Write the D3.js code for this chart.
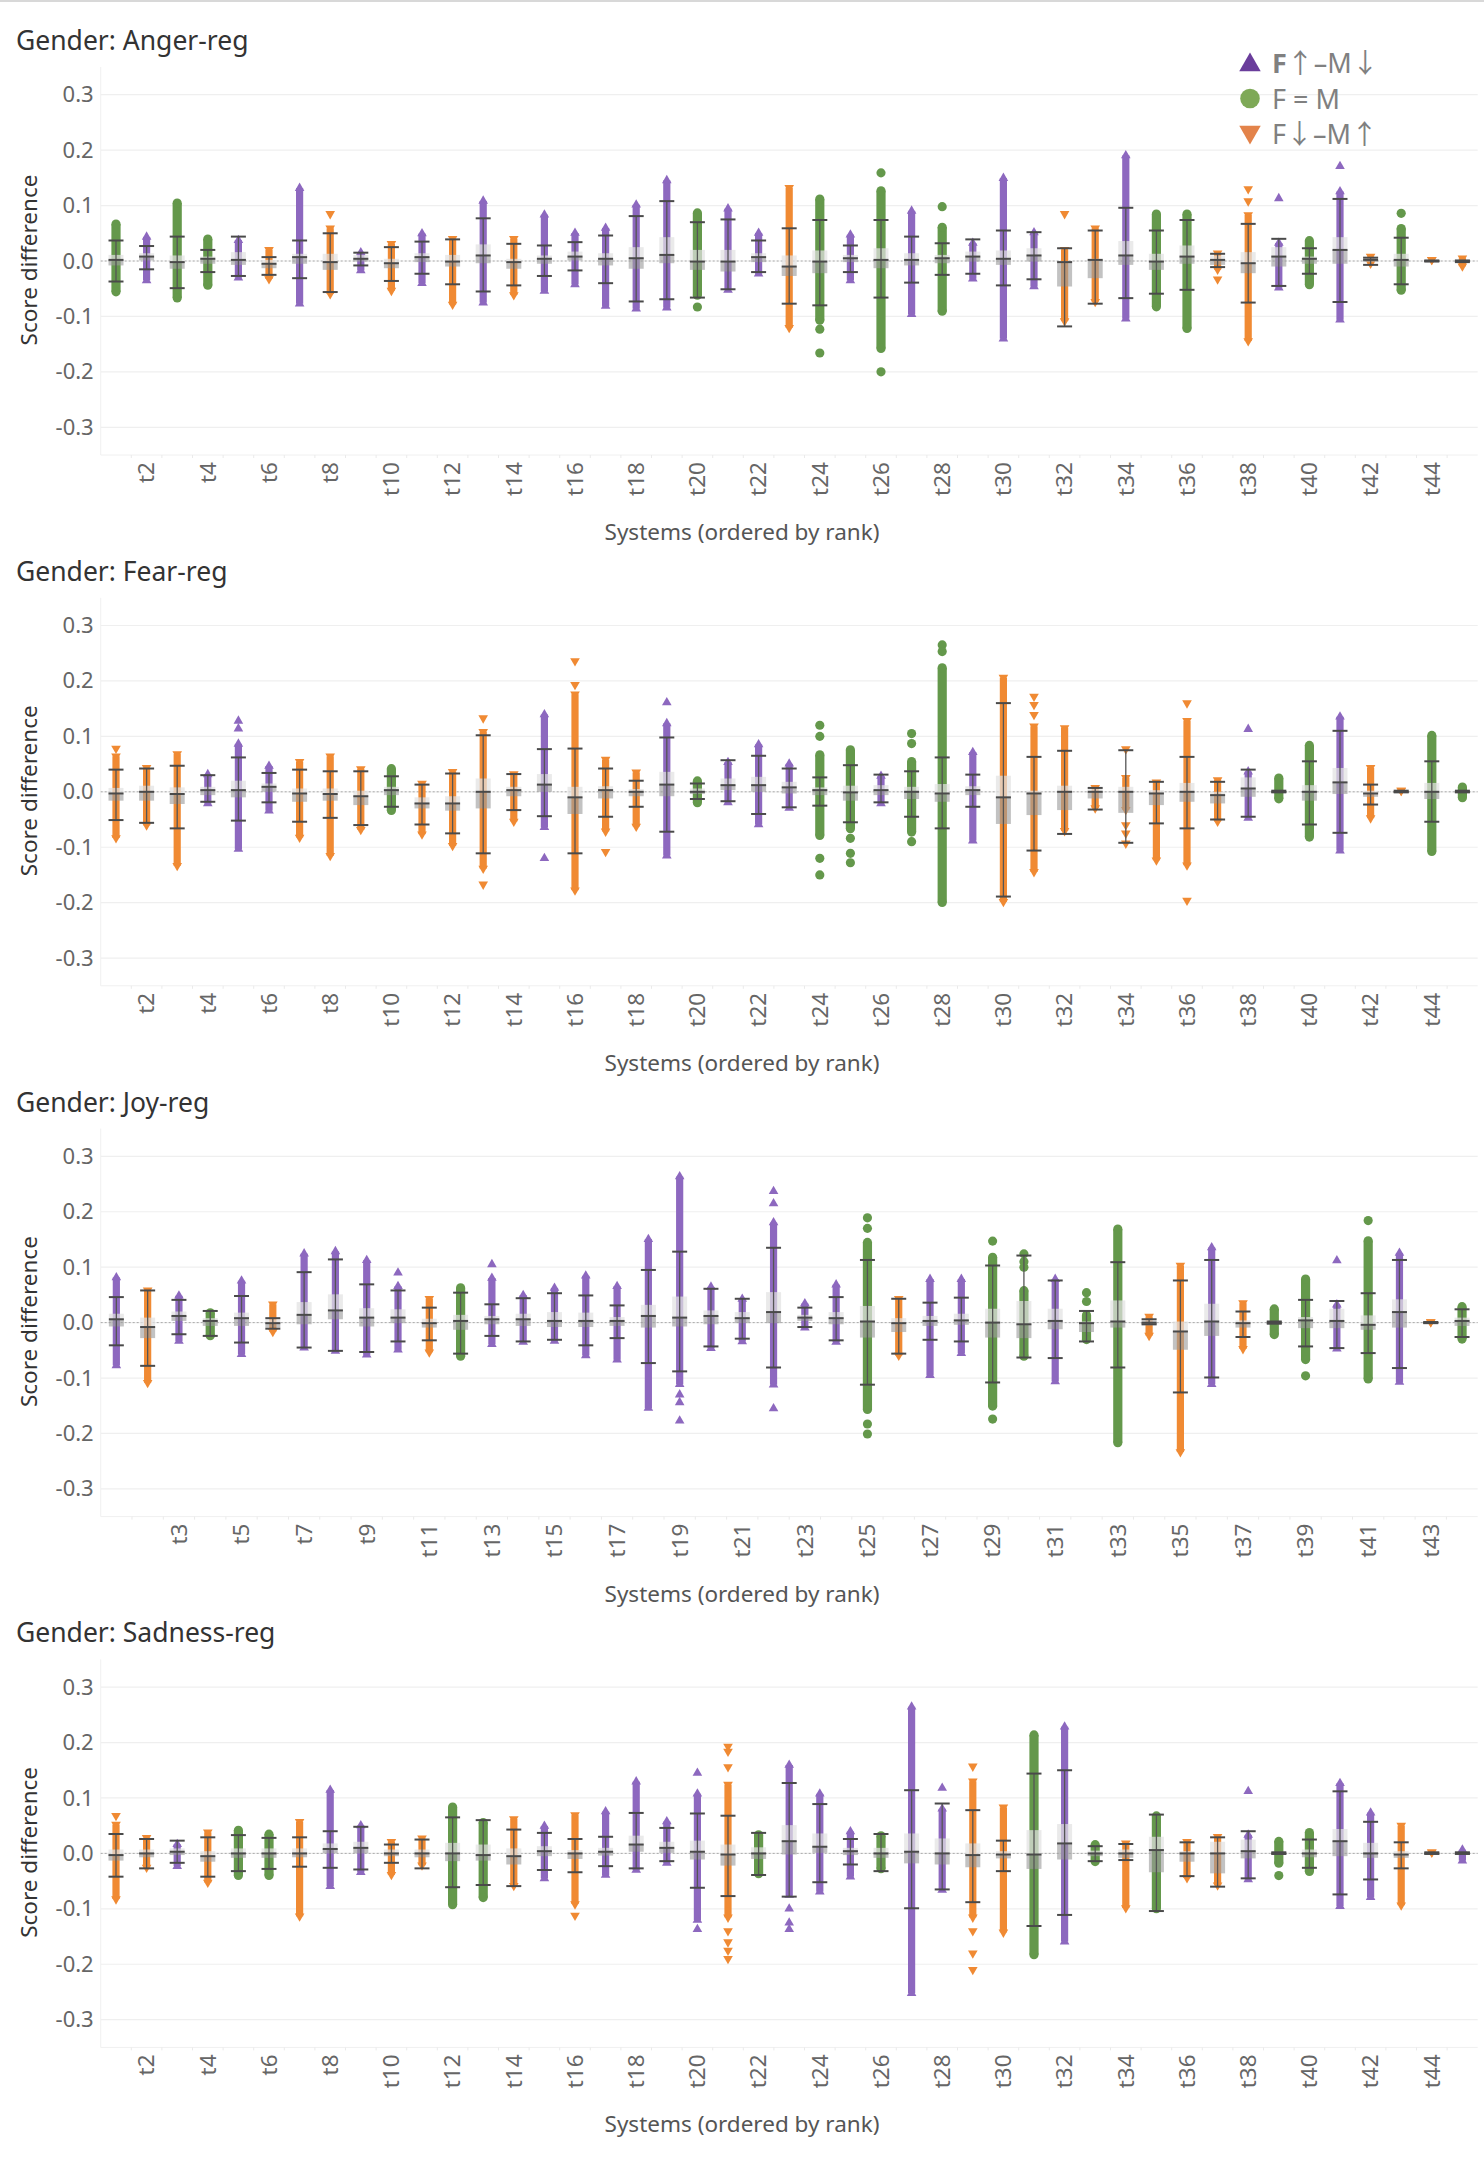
<!DOCTYPE html>
<html>
<head>
<meta charset="utf-8">
<script src="https://cdn.jsdelivr.net/npm/d3@7/dist/d3.min.js"></script>
<style>
  body { margin: 0; background: #fff; }
  svg text { font-family: "Noto Sans", "DejaVu Sans", sans-serif; }
</style>
</head>
<body>
<div id="chart"></div>
<script>
// groups: p = F↑–M↓, g = F = M, o = F↓–M↑
const angerGroup = "g p g g p o p o p o p o p o p p p p p g p p o g p g p g p p p o o p g g o o p g p o g o o".split(" ");
const angerHi  = [0.075,0.053,0.113,0.048,0.047,0.025,0.141,0.064,0.025,0.036,0.059,0.045,0.118,0.045,0.093,0.060,0.069,0.111,0.155,0.095,0.104,0.060,0.137,0.120,0.057,0.135,0.100,0.069,0.042,0.159,0.061,0.025,0.064,0.200,0.093,0.093,0.019,0.088,0.042,0.045,0.135,0.013,0.067,0.007,0.010];
const angerLo  = [-0.064,-0.040,-0.075,-0.052,-0.035,-0.042,-0.082,-0.069,-0.022,-0.063,-0.045,-0.088,-0.080,-0.071,-0.059,-0.047,-0.086,-0.091,-0.089,-0.070,-0.057,-0.028,-0.130,-0.115,-0.040,-0.166,-0.101,-0.099,-0.037,-0.145,-0.051,-0.118,-0.083,-0.109,-0.091,-0.130,-0.025,-0.154,-0.053,-0.051,-0.111,-0.014,-0.061,-0.005,-0.019];
const angerCapHi = [0.037,0.027,0.044,0.020,0.044,0.007,0.037,0.050,0.015,0.025,0.035,0.039,0.077,0.031,0.028,0.034,0.046,0.081,0.108,0.070,0.075,0.037,0.059,0.074,0.028,0.074,0.044,0.032,0.039,0.055,0.052,0.023,0.055,0.096,0.055,0.074,0.013,0.067,0.040,0.023,0.112,0.006,0.042,0.001,0.001];
const angerCapLo = [-0.037,-0.015,-0.049,-0.020,-0.027,-0.025,-0.031,-0.056,-0.008,-0.036,-0.023,-0.042,-0.055,-0.044,-0.027,-0.017,-0.040,-0.073,-0.069,-0.066,-0.051,-0.020,-0.077,-0.080,-0.020,-0.066,-0.039,-0.025,-0.023,-0.044,-0.033,-0.118,-0.077,-0.067,-0.059,-0.052,-0.011,-0.075,-0.045,-0.023,-0.074,-0.007,-0.042,-0.001,-0.002];
const angerQ3  = [0.011,0.014,0.010,0.008,0.016,0.002,0.013,0.013,0.011,0.004,0.014,0.011,0.030,0.004,0.010,0.017,0.014,0.025,0.043,0.020,0.020,0.014,0.010,0.019,0.011,0.023,0.014,0.011,0.017,0.019,0.023,0.000,0.004,0.036,0.013,0.028,0.010,0.016,0.025,0.008,0.043,0.006,0.013,0.002,0.002];
const angerMed = [0.002,0.008,-0.002,0.004,0.002,-0.005,0.007,-0.002,0.004,-0.004,0.007,-0.001,0.010,-0.002,0.004,0.008,0.004,0.005,0.011,-0.001,-0.001,0.007,-0.010,-0.001,0.005,0.002,0.002,0.005,0.008,0.004,0.010,-0.002,0.002,0.010,-0.001,0.008,0.002,-0.004,0.008,0.004,0.020,0.002,0.002,0.000,0.000];
const angerQ1  = [-0.008,0.001,-0.014,-0.005,-0.007,-0.013,-0.005,-0.016,-0.001,-0.013,-0.002,-0.010,-0.004,-0.014,-0.005,0.001,-0.008,-0.014,-0.004,-0.016,-0.019,-0.002,-0.027,-0.022,-0.002,-0.013,-0.008,-0.004,-0.001,-0.007,-0.001,-0.046,-0.031,-0.007,-0.016,-0.005,-0.007,-0.022,-0.010,-0.005,-0.005,-0.002,-0.010,-0.001,-0.002];
const angerOut = [[8,0.085],[20,-0.083],[24,-0.123],[24,-0.166],[26,0.159],[26,-0.2],[28,0.098],[32,0.085],[37,-0.033],[38,0.13],[38,0.108],[39,0.113],[41,0.171],[43,0.086]];

const fearGroup = "o o o p p p o o o g o o o o p o o o p g p p p g g p g g p o o o o o o o o p g g p o o g g".split(" ");
const fearHi  = [0.069,0.048,0.073,0.041,0.096,0.056,0.059,0.069,0.046,0.050,0.020,0.041,0.113,0.037,0.149,0.181,0.063,0.040,0.133,0.028,0.063,0.095,0.060,0.075,0.084,0.038,0.063,0.232,0.081,0.211,0.123,0.120,0.012,0.030,0.022,0.133,0.026,0.046,0.033,0.092,0.145,0.048,0.007,0.110,0.017];
const fearLo  = [-0.093,-0.070,-0.143,-0.026,-0.108,-0.039,-0.092,-0.125,-0.078,-0.042,-0.086,-0.107,-0.148,-0.063,-0.069,-0.187,-0.081,-0.072,-0.120,-0.028,-0.024,-0.064,-0.034,-0.087,-0.075,-0.026,-0.081,-0.208,-0.093,-0.208,-0.154,-0.080,-0.039,-0.042,-0.133,-0.142,-0.063,-0.052,-0.021,-0.090,-0.111,-0.057,-0.006,-0.116,-0.019];
const fearCapHi = [0.040,0.042,0.047,0.030,0.062,0.034,0.040,0.037,0.037,0.028,0.013,0.033,0.102,0.032,0.077,0.078,0.042,0.020,0.098,0.015,0.057,0.065,0.042,0.026,0.048,0.031,0.037,0.062,0.031,0.160,0.063,0.074,0.007,0.075,0.018,0.063,0.018,0.040,0.002,0.055,0.110,0.013,0.002,0.055,0.002];
const fearCapLo = [-0.051,-0.056,-0.066,-0.018,-0.052,-0.019,-0.054,-0.047,-0.060,-0.027,-0.059,-0.075,-0.111,-0.033,-0.044,-0.111,-0.045,-0.027,-0.072,-0.013,-0.017,-0.040,-0.028,-0.025,-0.055,-0.019,-0.045,-0.066,-0.027,-0.189,-0.106,-0.076,-0.032,-0.092,-0.057,-0.066,-0.050,-0.045,-0.001,-0.059,-0.074,-0.023,-0.001,-0.054,-0.001];
const fearQ3  = [0.007,0.011,0.008,0.009,0.020,0.015,0.006,0.006,0.002,0.009,-0.010,-0.008,0.024,0.009,0.032,0.009,0.010,0.005,0.036,0.006,0.024,0.027,0.018,0.008,0.011,0.012,0.009,0.014,0.010,0.029,0.002,0.011,0.005,0.009,0.003,0.016,0.000,0.026,0.001,0.012,0.043,0.002,0.001,0.016,0.001];
const fearMed = [-0.003,0.000,-0.004,0.003,0.003,0.009,-0.003,-0.004,-0.008,0.003,-0.021,-0.021,0.000,0.003,0.013,-0.010,0.003,0.000,0.013,0.000,0.012,0.012,0.008,0.003,-0.001,0.003,0.000,-0.003,0.003,-0.010,-0.003,0.000,0.000,0.000,-0.003,0.000,-0.006,0.006,0.000,0.000,0.017,-0.003,0.000,0.000,0.000];
const fearQ1  = [-0.016,-0.016,-0.022,-0.006,-0.010,0.000,-0.018,-0.016,-0.024,-0.006,-0.030,-0.034,-0.030,-0.008,0.000,-0.040,-0.012,-0.008,-0.008,-0.004,0.003,0.000,-0.003,-0.006,-0.016,-0.006,-0.013,-0.018,-0.006,-0.058,-0.042,-0.033,-0.012,-0.038,-0.024,-0.018,-0.021,-0.009,-0.001,-0.016,-0.004,-0.009,-0.001,-0.013,-0.001];
const fearOut = [[1,0.078],[5,0.128],[5,0.114],[13,0.133],[13,-0.167],[15,-0.12],[16,0.236],[16,0.193],[17,-0.108],[19,0.161],[24,0.12],[24,0.1],[24,-0.12],[24,-0.15],[25,-0.084],[25,-0.111],[25,-0.128],[27,0.105],[27,0.087],[27,-0.09],[28,0.265],[28,0.253],[31,0.172],[31,0.157],[31,0.139],[34,0.077],[34,-0.06],[34,-0.075],[34,-0.093],[36,0.16],[36,-0.196],[38,0.113]];

const joyGroup = "p o p g p o p p p p o g p p p p p p p p p p p p g o p p g g p g g o o p o g g p g p o g".split(" ");
const joyHi  = [0.091,0.063,0.058,0.026,0.085,0.038,0.134,0.138,0.122,0.075,0.048,0.071,0.090,0.059,0.072,0.094,0.075,0.160,0.273,0.074,0.052,0.190,0.044,0.078,0.153,0.048,0.088,0.088,0.126,0.066,0.088,0.022,0.177,0.016,0.108,0.145,0.040,0.033,0.087,0.042,0.156,0.135,0.006,0.037];
const joyLo  = [-0.082,-0.118,-0.038,-0.032,-0.062,-0.026,-0.050,-0.056,-0.063,-0.054,-0.063,-0.069,-0.044,-0.040,-0.038,-0.064,-0.072,-0.159,-0.116,-0.051,-0.039,-0.117,-0.014,-0.040,-0.165,-0.069,-0.100,-0.060,-0.159,-0.069,-0.111,-0.039,-0.225,-0.033,-0.243,-0.116,-0.057,-0.030,-0.075,-0.052,-0.110,-0.112,-0.006,-0.038];
const joyCapHi = [0.046,0.058,0.041,0.021,0.048,0.008,0.091,0.114,0.069,0.058,0.027,0.054,0.033,0.044,0.053,0.049,0.031,0.095,0.128,0.061,0.043,0.135,0.027,0.046,0.113,0.043,0.036,0.045,0.103,0.121,0.076,0.021,0.109,0.006,0.076,0.113,0.020,0.002,0.041,0.039,0.053,0.113,0.001,0.024];
const joyCapLo = [-0.041,-0.078,-0.021,-0.024,-0.036,-0.011,-0.045,-0.051,-0.053,-0.034,-0.032,-0.056,-0.024,-0.034,-0.031,-0.041,-0.028,-0.073,-0.088,-0.043,-0.029,-0.081,-0.008,-0.032,-0.112,-0.056,-0.031,-0.034,-0.108,-0.063,-0.064,-0.034,-0.081,-0.003,-0.126,-0.099,-0.026,-0.002,-0.043,-0.046,-0.055,-0.082,-0.001,-0.026];
const joyQ3  = [0.016,0.009,0.020,0.008,0.018,0.006,0.037,0.051,0.026,0.024,0.007,0.014,0.012,0.016,0.019,0.018,0.010,0.032,0.047,0.022,0.019,0.055,0.014,0.019,0.030,0.008,0.012,0.016,0.025,0.039,0.025,0.002,0.040,0.006,0.002,0.034,0.004,0.002,0.010,0.025,0.013,0.042,0.001,0.009];
const joyMed = [0.006,-0.008,0.012,0.003,0.008,-0.001,0.014,0.022,0.009,0.009,-0.001,0.003,0.006,0.006,0.003,0.003,0.003,0.012,0.009,0.012,0.008,0.019,0.009,0.008,0.002,-0.001,0.003,0.004,0.000,-0.003,0.003,-0.001,0.002,0.000,-0.016,0.002,-0.001,0.000,0.004,0.003,-0.004,0.019,0.000,0.003];
const joyQ1  = [-0.007,-0.028,0.003,-0.006,-0.006,-0.009,-0.003,0.006,-0.007,-0.001,-0.009,-0.013,-0.003,-0.006,-0.008,-0.008,-0.006,-0.009,-0.007,-0.003,-0.001,-0.001,0.003,-0.003,-0.027,-0.017,-0.006,-0.004,-0.027,-0.028,-0.012,-0.017,-0.009,-0.005,-0.049,-0.024,-0.009,-0.002,-0.010,-0.010,-0.013,-0.009,-0.001,-0.006];
const joyOut = [[10,0.09],[13,0.105],[19,-0.13],[19,-0.144],[19,-0.177],[22,0.237],[22,0.215],[22,-0.155],[25,0.189],[25,0.17],[25,-0.183],[25,-0.201],[29,0.147],[29,-0.174],[30,0.124],[30,0.11],[30,0.1],[32,0.054],[32,0.038],[39,-0.096],[40,0.112],[41,0.184]];

const sadGroup = "o o p o g g o p p o o g g o p o p p p p o g p p p g p p o o g p g o g o o p g g p p o o p".split(" ");
const sadHi  = [0.057,0.033,0.026,0.043,0.050,0.043,0.062,0.124,0.060,0.026,0.032,0.092,0.064,0.067,0.059,0.074,0.085,0.139,0.067,0.117,0.129,0.042,0.169,0.117,0.049,0.040,0.274,0.090,0.135,0.088,0.222,0.238,0.024,0.023,0.076,0.026,0.035,0.043,0.030,0.046,0.136,0.083,0.055,0.007,0.016];
const sadLo  = [-0.092,-0.035,-0.028,-0.062,-0.048,-0.048,-0.123,-0.064,-0.039,-0.048,-0.031,-0.101,-0.088,-0.068,-0.050,-0.101,-0.044,-0.035,-0.022,-0.125,-0.125,-0.045,-0.080,-0.074,-0.047,-0.036,-0.257,-0.071,-0.125,-0.152,-0.191,-0.164,-0.023,-0.108,-0.108,-0.054,-0.067,-0.052,-0.026,-0.041,-0.100,-0.084,-0.103,-0.005,-0.018];
const sadCapHi = [0.035,0.026,0.023,0.029,0.033,0.028,0.029,0.040,0.048,0.016,0.025,0.065,0.060,0.043,0.037,0.026,0.030,0.073,0.046,0.072,0.068,0.037,0.127,0.089,0.026,0.035,0.114,0.090,0.078,0.023,0.144,0.150,0.013,0.017,0.070,0.020,0.029,0.040,0.002,0.025,0.112,0.057,0.020,0.002,0.002];
const sadCapLo = [-0.042,-0.027,-0.017,-0.042,-0.032,-0.028,-0.024,-0.026,-0.029,-0.017,-0.027,-0.061,-0.057,-0.059,-0.030,-0.034,-0.023,-0.027,-0.014,-0.062,-0.077,-0.039,-0.078,-0.052,-0.020,-0.032,-0.099,-0.065,-0.088,-0.032,-0.131,-0.111,-0.014,-0.012,-0.104,-0.041,-0.060,-0.045,-0.001,-0.026,-0.074,-0.047,-0.027,-0.001,-0.001];
const sadQ3  = [0.007,0.007,0.009,0.004,0.009,0.009,0.009,0.018,0.021,0.007,0.007,0.019,0.016,0.009,0.013,0.006,0.010,0.032,0.021,0.023,0.016,0.011,0.051,0.036,0.010,0.010,0.036,0.027,0.018,0.004,0.042,0.053,0.005,0.007,0.030,0.004,0.021,0.025,0.001,0.007,0.044,0.019,0.004,0.001,0.001];
const sadMed = [-0.003,0.000,0.003,-0.005,0.000,0.000,0.000,0.008,0.010,0.000,0.000,0.000,-0.003,-0.005,0.004,0.000,0.003,0.016,0.010,0.003,-0.002,0.000,0.022,0.012,0.004,0.000,0.003,0.000,-0.003,-0.002,-0.002,0.018,0.000,0.000,0.006,0.000,0.000,0.004,0.000,0.000,0.022,0.000,-0.002,0.000,0.000];
const sadQ1  = [-0.013,-0.007,-0.003,-0.015,-0.008,-0.008,-0.007,0.000,0.000,-0.005,-0.007,-0.014,-0.013,-0.020,-0.005,-0.010,-0.004,0.003,0.001,-0.011,-0.022,-0.010,-0.002,0.001,-0.003,-0.008,-0.018,-0.020,-0.025,-0.009,-0.028,-0.011,-0.005,-0.008,-0.034,-0.015,-0.036,-0.009,-0.001,-0.007,-0.005,-0.008,-0.008,-0.001,-0.001];
const sadOut = [[1,0.068],[16,-0.112],[20,0.145],[20,-0.137],[21,0.193],[21,0.184],[21,0.156],[21,-0.14],[21,-0.16],[21,-0.175],[21,-0.19],[23,-0.1],[23,-0.125],[23,-0.137],[28,0.118],[29,0.157],[29,-0.14],[29,-0.18],[29,-0.21],[38,0.112],[39,-0.04]];

const panelTitles = ["Gender: Anger-reg", "Gender: Fear-reg", "Gender: Joy-reg", "Gender: Sadness-reg"];
const yTicks = [0.3, 0.2, 0.1, 0.0, -0.1, -0.2, -0.3];
const legendKeys = ["p", "g", "o"];
// each label: [bold part, plain/arrow parts...]
const legendLabels = [["F", "↑", "–M", "↓"], ["", "F = M"], ["", "F", "↓", "–M", "↑"]];

// ---------------------------------------------------------------

const width = 1484;
const height = 2158;
const panelStep = 530.8;
const plotLeft = 100.7;
const plotRight = 1477.7;

const markColor = { p: "#8d68bf", g: "#64984b", o: "#f08a33" };
const legendColor = { p: "#6a3d9b", g: "#7ea957", o: "#e3834a" };

const svg = d3.select("#chart")
    .append("svg")
    .attr("width", width)
    .attr("height", height);

svg.append("rect")
    .attr("x", 0).attr("y", 0)
    .attr("width", width).attr("height", 2)
    .attr("fill", "#d8d8d8");

function symbolFor(key, size) {
    if (key == "g") return d3.symbol().type(d3.symbolCircle).size(size)();
    return d3.symbol().type(d3.symbolTriangle).size(size)();
}

function drawPanel(i, group, hi, lo, capHi, capLo, q3, med, q1, outliers) {
    let y0 = i * panelStep;
    let g = svg.append("g");

    let names = group.map(function(d, k) { return "t" + (k + 1); });

    let xScale = d3.scaleBand()
        .domain(names)
        .range([plotLeft, plotRight]);

    let yScale = d3.scaleLinear()
        .domain([-0.35, 0.35])
        .range([y0 + 455, y0 + 67]);

    // title
    g.append("text")
        .attr("x", 16)
        .attr("y", y0 + 50)
        .attr("fill", "#333")
        .style("font-size", "26.5px")
        .text(panelTitles[i]);

    // grid
    g.selectAll(".grid")
        .data(yTicks)
        .enter().append("line")
        .attr("x1", plotLeft).attr("x2", plotRight)
        .attr("y1", function(d) { return yScale(d); })
        .attr("y2", function(d) { return yScale(d); })
        .attr("stroke", "#efefef")
        .attr("stroke-width", 1.2);

    g.append("line")
        .attr("x1", plotLeft).attr("x2", plotLeft)
        .attr("y1", y0 + 67).attr("y2", y0 + 455)
        .attr("stroke", "#f0f0f0");
    g.append("line")
        .attr("x1", plotLeft).attr("x2", plotRight)
        .attr("y1", y0 + 455).attr("y2", y0 + 455)
        .attr("stroke", "#f0f0f0");

    // y axis labels
    let axisY = d3.axisLeft(yScale)
        .tickValues(yTicks)
        .tickFormat(function(d) { return d.toFixed(1); })
        .tickSize(0)
        .tickPadding(7);
    let gy = g.append("g")
        .attr("transform", `translate(${plotLeft}, 0)`)
        .call(axisY);
    gy.select(".domain").remove();
    gy.selectAll("text")
        .attr("fill", "#666")
        .style("font-family", "\"Noto Sans\", sans-serif")
        .style("font-size", "22px");

    g.append("text")
        .attr("transform", `translate(37, ${y0 + 260}) rotate(-90)`)
        .attr("text-anchor", "middle")
        .attr("fill", "#333")
        .style("font-size", "22.5px")
        .text("Score difference");

    // x axis labels: every second system, first one skipped
    let parity = group.length == 44 ? 1 : 0;
    let axisX = d3.axisBottom(xScale)
        .tickValues(names.filter(function(d, k) { return (k + 1) % 2 == parity && k > 0; }))
        .tickSize(0);
    let gx = g.append("g")
        .attr("transform", `translate(0, ${y0 + 455})`)
        .call(axisX);
    gx.select(".domain").remove();
    gx.selectAll("text")
        .attr("fill", "#666")
        .style("font-family", "\"Noto Sans\", sans-serif")
        .style("font-size", "22.5px")
        .attr("text-anchor", "end")
        .attr("transform", "rotate(-90)")
        .attr("x", -7)
        .attr("y", 0)
        .attr("dy", "0.35em");

    // faint column separators below the axis
    g.selectAll(".sep")
        .data(names.slice(1))
        .enter().append("line")
        .attr("x1", function(d) { return xScale(d); })
        .attr("x2", function(d) { return xScale(d); })
        .attr("y1", y0 + 455).attr("y2", y0 + 458)
        .attr("stroke", "#eaeaea");

    g.append("text")
        .attr("x", width / 2)
        .attr("y", y0 + 540)
        .attr("text-anchor", "middle")
        .attr("fill", "#555")
        .style("font-size", "22.5px")
        .text("Systems (ordered by rank)");

    // zero line
    g.append("line")
        .attr("x1", plotLeft).attr("x2", plotRight)
        .attr("y1", yScale(0)).attr("y2", yScale(0))
        .attr("stroke", "#aaa")
        .attr("stroke-width", 1)
        .attr("stroke-dasharray", "2,2");

    let cols = group.map(function(key, k) {
        return {
            name: names[k], key: key,
            cx: xScale(names[k]) + xScale.bandwidth() / 2,
            hi: hi[k], lo: lo[k], capHi: capHi[k], capLo: capLo[k],
            q3: q3[k], med: med[k], q1: q1[k]
        };
    });

    // strips of points
    let strips = g.append("g");
    cols.forEach(function(c) {
        let color = markColor[c.key];
        let top = yScale(c.hi);
        let bot = yScale(c.lo);
        let half = c.key == "g" ? 4.6 : 3.6;
        let endTop = c.key == "p" ? top + 5.3 : (c.key == "o" ? top + 2.7 : top + 4.6);
        let endBot = c.key == "o" ? bot - 5.3 : (c.key == "p" ? bot - 2.7 : bot - 4.6);
        if (endBot > endTop) {
            strips.append("rect")
                .attr("x", c.cx - half)
                .attr("width", half * 2)
                .attr("y", endTop)
                .attr("height", endBot - endTop)
                .attr("fill", color);
        }
        let size = c.key == "g" ? 66 : 40;
        let rot = c.key == "o" ? 180 : 0;
        [endTop, Math.max(endTop, endBot)].forEach(function(yy) {
            strips.append("path")
                .attr("d", symbolFor(c.key, size))
                .attr("transform", `translate(${c.cx}, ${yy}) rotate(${rot})`)
                .attr("fill", color);
        });
    });

    // detached points
    g.selectAll(".out")
        .data(outliers)
        .enter().append("path")
        .attr("d", function(d) { return symbolFor(group[d[0] - 1], group[d[0] - 1] == "g" ? 66 : 40); })
        .attr("transform", function(d) {
            let key = group[d[0] - 1];
            let cx = xScale(names[d[0] - 1]) + xScale.bandwidth() / 2;
            return `translate(${cx}, ${yScale(d[1])}) rotate(${key == "o" ? 180 : 0})`;
        })
        .attr("fill", function(d) { return markColor[group[d[0] - 1]]; });

    // box plot
    let bw = 7.5;
    g.selectAll(".boxUp")
        .data(cols)
        .enter().append("rect")
        .attr("x", function(d) { return d.cx - bw; })
        .attr("width", bw * 2)
        .attr("y", function(d) { return yScale(d.q3); })
        .attr("height", function(d) { return Math.max(1, yScale(d.med) - yScale(d.q3)); })
        .attr("fill", "#e2e2e2")
        .attr("fill-opacity", 0.72);
    g.selectAll(".boxDown")
        .data(cols)
        .enter().append("rect")
        .attr("x", function(d) { return d.cx - bw; })
        .attr("width", bw * 2)
        .attr("y", function(d) { return yScale(d.med); })
        .attr("height", function(d) { return Math.max(1, yScale(d.q1) - yScale(d.med)); })
        .attr("fill", "#9c9c9c")
        .attr("fill-opacity", 0.62);

    // whiskers
    g.selectAll(".whisk")
        .data(cols)
        .enter().append("line")
        .attr("x1", function(d) { return d.cx; })
        .attr("x2", function(d) { return d.cx; })
        .attr("y1", function(d) { return yScale(d.capHi); })
        .attr("y2", function(d) { return yScale(d.capLo); })
        .attr("stroke", "#555")
        .attr("stroke-width", 1.3);

    ["capHi", "med", "capLo"].forEach(function(field) {
        g.selectAll(".cap-" + field)
            .data(cols)
            .enter().append("line")
            .attr("x1", function(d) { return d.cx - bw; })
            .attr("x2", function(d) { return d.cx + bw; })
            .attr("y1", function(d) { return yScale(d[field]); })
            .attr("y2", function(d) { return yScale(d[field]); })
            .attr("stroke", "#4a4a4a")
            .attr("stroke-width", 2);
    });
}

drawPanel(0, angerGroup, angerHi, angerLo, angerCapHi, angerCapLo, angerQ3, angerMed, angerQ1, angerOut);
drawPanel(1, fearGroup, fearHi, fearLo, fearCapHi, fearCapLo, fearQ3, fearMed, fearQ1, fearOut);
drawPanel(2, joyGroup, joyHi, joyLo, joyCapHi, joyCapLo, joyQ3, joyMed, joyQ1, joyOut);
drawPanel(3, sadGroup, sadHi, sadLo, sadCapHi, sadCapLo, sadQ3, sadMed, sadQ1, sadOut);

// legend
let legend = svg.append("g");
legendKeys.forEach(function(key, i) {
    let yy = 63 + i * 35.5;
    legend.append("path")
        .attr("d", symbolFor(key, key == "g" ? 300 : 200))
        .attr("transform", `translate(1250, ${yy + (key == "p" ? 2 : key == "o" ? -2 : 0)}) rotate(${key == "o" ? 180 : 0})`)
        .attr("fill", legendColor[key]);
    let t = legend.append("text")
        .attr("x", 1272)
        .attr("y", yy + 10)
        .attr("fill", "#808080")
        .style("font-size", "27px");
    if (legendLabels[i][0]) {
        t.append("tspan").style("font-weight", "bold").text(legendLabels[i][0]);
    }
    legendLabels[i].slice(1).forEach(function(part) {
        let s = t.append("tspan").text(part);
        if (part == "↑" || part == "↓") {
            s.style("font-family", "\"Noto Sans CJK SC\", sans-serif");
        }
    });
});
</script>
</body>
</html>
